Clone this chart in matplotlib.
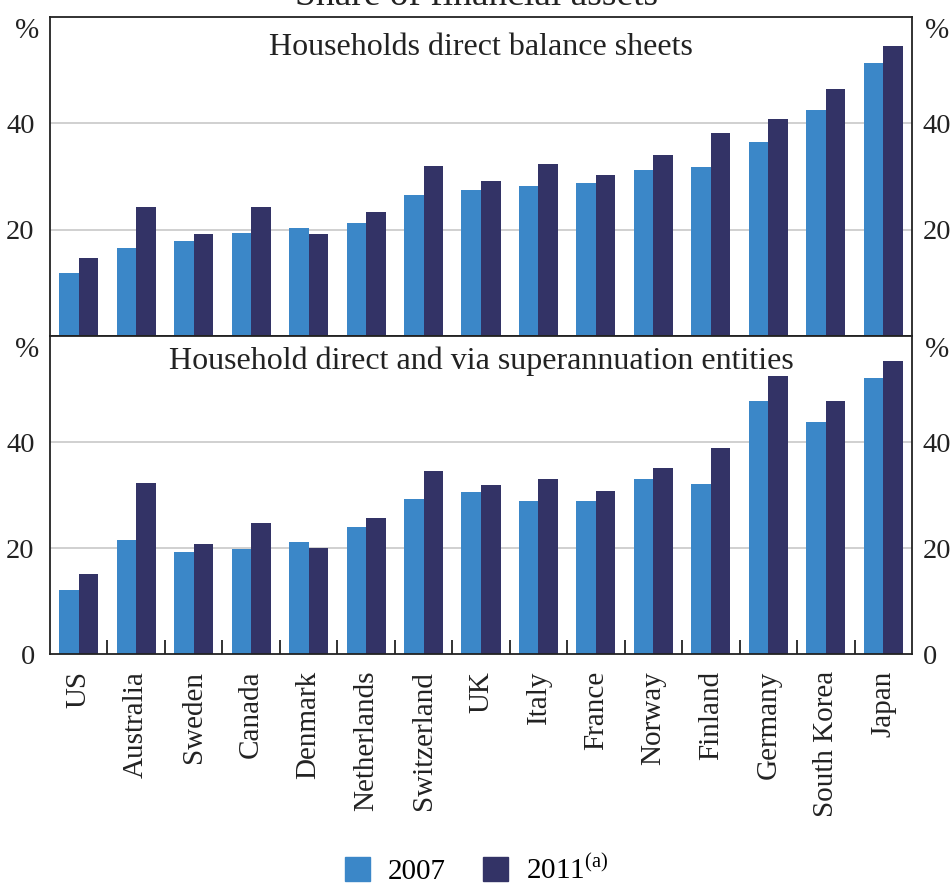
import matplotlib
matplotlib.use("Agg")
import matplotlib.pyplot as plt
import matplotlib.transforms as mtransforms
import numpy as np
from matplotlib.patches import Patch

plt.rcParams['font.family'] = ['Liberation Serif', 'DejaVu Serif']
plt.rcParams['mathtext.fontset'] = 'custom'
plt.rcParams['mathtext.rm'] = 'Liberation Serif'

countries = ["US", "Australia", "Sweden", "Canada", "Denmark", "Netherlands", "Switzerland",
             "UK", "Italy", "France", "Norway", "Finland", "Germany", "South Korea", "Japan"]
direct_2007 = [11.9, 16.6, 17.9, 19.4, 20.4, 21.3, 26.6, 27.5, 28.3, 28.7, 31.3, 31.7, 36.4, 42.6, 51.3]
direct_2011 = [14.7, 24.2, 19.1, 24.2, 19.2, 23.4, 31.9, 29.1, 32.3, 30.2, 34.0, 38.1, 40.9, 46.4, 54.5]
super_2007 = [12.1, 21.5, 19.2, 19.8, 21.1, 24.0, 29.2, 30.6, 28.9, 28.9, 33.0, 32.1, 47.7, 43.8, 52.1]
super_2011 = [15.1, 32.3, 20.8, 24.7, 20.0, 25.7, 34.5, 31.9, 33.0, 30.8, 35.1, 38.9, 52.5, 47.7, 55.3]
yticks = [20, 40]
panel_titles = ["Households direct balance sheets", "Household direct and via superannuation entities"]
series_labels = ["2007", "2011$^{\\mathrm{(a)}}$"]

c07 = "#3B87C8"
c11 = "#333366"
txt = '#222222'
W, H = 953, 884
fig = plt.figure(figsize=(W / 100, H / 100), dpi=100)
L, R = 50 / W, 912 / W
ax1 = fig.add_axes([L, 1 - 336 / H, R - L, (336 - 17) / H])
ax2 = fig.add_axes([L, 1 - 654 / H, R - L, (654 - 336) / H])

x = np.arange(len(countries))
bw = 0.34
for ax, a, b, t, show0, ty in [(ax1, direct_2007, direct_2011, panel_titles[0], False, 0.905),
                               (ax2, super_2007, super_2011, panel_titles[1], True, 0.92)]:
    ax.bar(x - bw / 2, a, bw, color=c07, zorder=2)
    ax.bar(x + bw / 2, b, bw, color=c11, zorder=2)
    ax.set_ylim(0, 60)
    ax.set_xlim(-0.5, len(countries) - 0.5)
    ticks = ([0] if show0 else []) + yticks
    ax.set_yticks(ticks)
    ax.set_yticklabels([str(v) for v in ticks])
    for v in yticks:
        ax.axhline(v, color="#c8c8c8", lw=1.2, zorder=1)
    ax.tick_params(axis='y', length=0, labelsize=20.5, pad=11, labelright=False, colors=txt)
    off = mtransforms.ScaledTranslation(11 / 100, 0, fig.dpi_scale_trans)
    for v in ticks:
        ax.text(1.0, v, str(v), transform=ax.get_yaxis_transform() + off, ha='left',
                va='center_baseline', fontsize=20.5, color=txt)
    for s in ax.spines.values():
        s.set_linewidth(1.3)
        s.set_color(txt)
    ax.text(0.5, ty, t, transform=ax.transAxes, ha='center', va='center', fontsize=23,
            color=txt)
    ax.text(-0.027, 0.955, "%", transform=ax.transAxes, ha='center', va='center', fontsize=21,
            color=txt)
    ax.text(1.029, 0.955, "%", transform=ax.transAxes, ha='center', va='center', fontsize=21,
            color=txt)

ax1.set_xticks([])
ax2.set_xticks(x)
ax2.set_xticklabels(countries, rotation=90, fontsize=21, color=txt)
ax2.tick_params(axis='x', length=0, pad=12)
ax2.set_xticks(np.arange(0.5, len(countries) - 0.5, 1), minor=True)
ax2.tick_params(axis='x', which='minor', direction='in', length=10, width=1.3, color=txt)

fig.text(0.5, 1 - 5 / H, "Share of financial assets", ha='center', va='baseline', fontsize=27,
         color=txt)

handles = [Patch(color=c07), Patch(color=c11)]
fig.legend(handles, series_labels, loc='center', bbox_to_anchor=(0.5, 1 - 870 / H), ncol=2,
           frameon=False, fontsize=21, handlelength=0.85, handleheight=0.85, columnspacing=1.3,
           handletextpad=0.6, borderpad=0.1)

fig.savefig("out.png", dpi=100)
